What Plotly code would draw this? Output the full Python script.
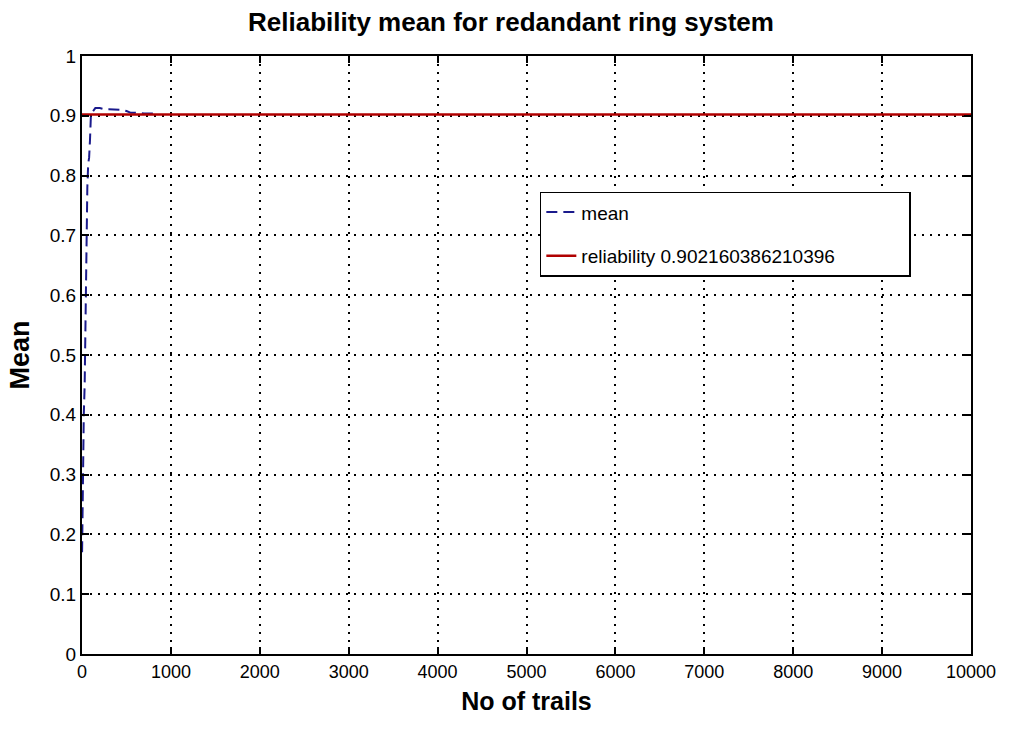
import plotly.graph_objects as go

# Running mean of the simulated reliability over the trials
trials = [1, 5, 10, 20, 30, 40, 50, 60, 70, 80, 90, 100, 110, 130, 150, 200,
          250, 300, 350, 400, 450, 500, 550, 600, 650, 700, 750, 800, 850]
mean_values = [0.17, 0.25, 0.30, 0.40, 0.45, 0.60, 0.70, 0.78, 0.82, 0.83, 0.86,
               0.90, 0.905, 0.91, 0.913, 0.913, 0.911, 0.911, 0.911, 0.910,
               0.910, 0.908, 0.905, 0.905, 0.904, 0.904, 0.904, 0.904, 0.904]

# Analytical reliability of the redundant ring system
reliability = 0.902160386210396
x_range = [0, 10000]

x_ticks = [0, 1000, 2000, 3000, 4000, 5000, 6000, 7000, 8000, 9000, 10000]
x_tick_text = ["0", "1000", "2000", "3000", "4000", "5000", "6000", "7000",
               "8000", "9000", "10000"]
y_ticks = [0, 0.1, 0.2, 0.3, 0.4, 0.5, 0.6, 0.7, 0.8, 0.9, 1]
y_tick_text = ["0", "0.1", "0.2", "0.3", "0.4", "0.5", "0.6", "0.7", "0.8", "0.9", "1"]

FONT = "Liberation Sans, Arial, sans-serif"
PAD = "\u00a0" * 13  # widens the legend box

fig = go.Figure()
fig.add_trace(go.Scatter(
    x=trials, y=mean_values, mode="lines", name="mean",
    legendgroup="g1",
    line=dict(color="#1a1a8c", width=2, dash="11px,6px"),
))
fig.add_trace(go.Scatter(
    x=x_range, y=[reliability, reliability], mode="lines",
    name=f"reliability {reliability}" + PAD,
    legendgroup="g2",
    line=dict(color="#b00000", width=2.5),
))

axis_common = dict(
    showline=True, linecolor="black", linewidth=2, mirror="ticks",
    ticks="inside", ticklen=7, tickwidth=2, tickcolor="black",
    showgrid=True, gridcolor="black", gridwidth=1.5, griddash="2px,6px",
    zeroline=False,
)

fig.update_layout(
    width=1022, height=734,
    paper_bgcolor="white", plot_bgcolor="white",
    margin=dict(l=82, r=51, t=56, b=80),
    title=dict(text="<b>Reliability mean for redandant ring system</b>",
               x=0.5, xanchor="center", y=0.97, yanchor="middle",
               font=dict(family=FONT, size=26, color="black")),
    showlegend=True,
    legend=dict(x=0.515, y=0.773, xanchor="left", yanchor="top",
                bgcolor="white", bordercolor="black", borderwidth=1.5,
                traceorder="grouped", tracegroupgap=16,
                font=dict(family=FONT, size=19, color="black")),
    xaxis=dict(range=x_range, tickvals=x_ticks, ticktext=x_tick_text,
               tickfont=dict(family=FONT, size=18, color="black"),
               title=dict(text="<b>No of trails</b>", standoff=12,
                          font=dict(family=FONT, size=25, color="black")),
               **axis_common),
    yaxis=dict(range=[0, 1], tickvals=y_ticks, ticktext=y_tick_text,
               tickfont=dict(family=FONT, size=19, color="black"),
               title=dict(text="<b>Mean</b>", standoff=12,
                          font=dict(family=FONT, size=27, color="black")),
               **axis_common),
)

fig.write_html("out.html")
